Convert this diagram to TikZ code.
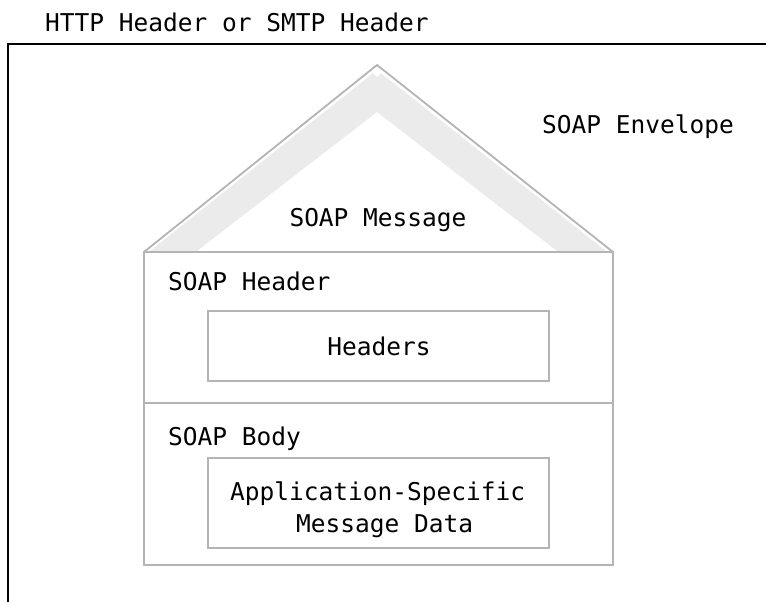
\documentclass[tikz,border=0pt]{standalone}
\usepackage{fontspec}
\setmainfont{DejaVu Sans Mono}
\definecolor{linegray}{HTML}{B4B4B4}
\definecolor{bandgray}{HTML}{EBEBEB}
\begin{document}
\begin{tikzpicture}[x=1pt,y=-1pt,
  txt/.style={inner sep=0pt, font=\fontsize{24.5}{31}\selectfont, text=black},
  graybox/.style={draw=linegray, line width=2.2pt},
  envline/.style={draw=black, line width=2.6pt}]
\useasboundingbox (0,0) rectangle (766,602);
% envelope frame (top and left)
\draw[envline] (766,44) -- (8,44) -- (8,602);
% roof band
\fill[bandgray] (150,251) -- (377,70) -- (606,251) -- (557,251) -- (377,112) -- (197,251) -- cycle;
\fill[white] (371,71) -- (377,65) -- (383,71) -- (377,77) -- cycle;
\draw[line width=1.8pt, draw=linegray, line join=miter] (144,252) -- (377,65) -- (613,252);
% house body
\draw[graybox] (144,252) rectangle (613,565);
\draw[graybox] (144,403) -- (613,403);
% inner boxes
\node[graybox, line width=2.6pt, minimum width=341pt, minimum height=70pt, inner sep=0pt] (hdr) at (378.5,346) {};
\node[graybox, line width=2.6pt, minimum width=341pt, minimum height=90pt, inner sep=0pt] (app) at (378.5,503) {};
% texts
\node[txt, anchor=base west] (http) at (45,32) {HTTP Header or SMTP Header};
\node[txt, anchor=base west] (env) at (542,133) {SOAP Envelope};
\node[txt, anchor=base] (msg) at (378,226) {SOAP Message};
\node[txt, anchor=base west] (sh) at (168,290) {SOAP Header};
\node[txt, anchor=base] (hdrs) at (379,355) {Headers};
\node[txt, anchor=base west] (sb) at (168,445) {SOAP Body};
\node[txt, anchor=base west] (a1) at (230,500) {Application-Specific};
\node[txt, anchor=base west] (a2) at (296,532) {Message Data};
\end{tikzpicture}
\end{document}
